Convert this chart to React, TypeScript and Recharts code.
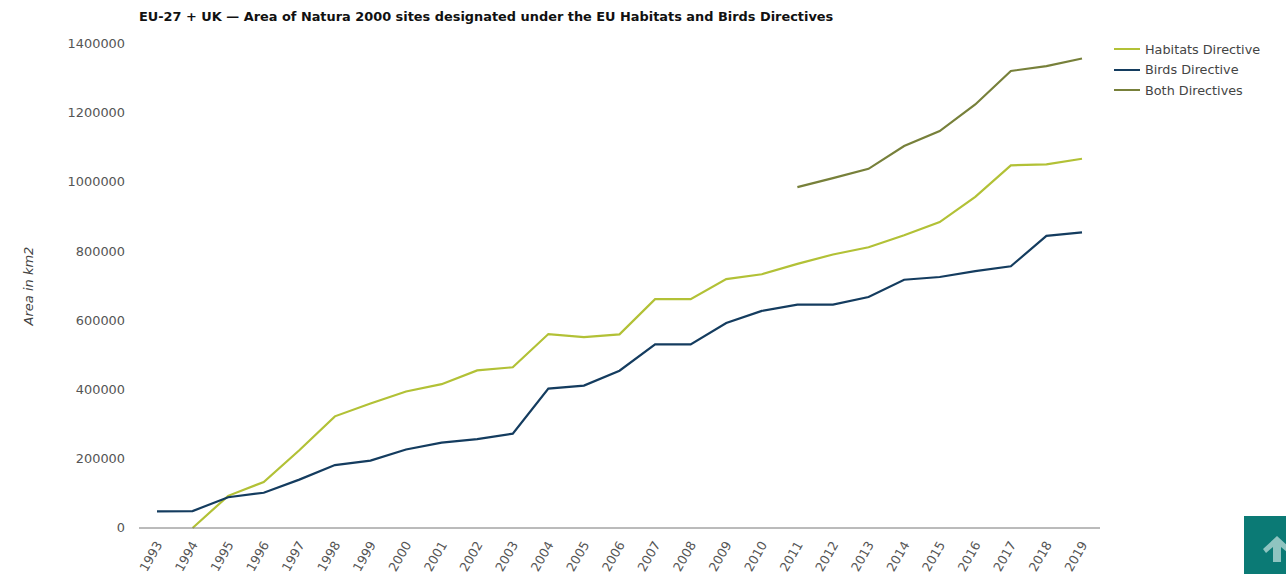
import React from "react";
import { LineChart, Line, XAxis, YAxis, Legend, Label } from "recharts";

const years = ["1993","1994","1995","1996","1997","1998","1999","2000","2001","2002","2003","2004","2005","2006","2007","2008","2009","2010","2011","2012","2013","2014","2015","2016","2017","2018","2019"];
const habitats: (number | null)[] = [null,0,93000,133000,225000,323000,360000,395000,416000,456000,465000,561000,552000,560000,662000,662000,720000,734000,764000,791000,812000,847000,885000,958000,1049000,1052000,1068000];
const birds: (number | null)[] = [48000,49000,89000,102000,140000,182000,195000,227000,247000,257000,273000,403000,412000,455000,531000,531000,593000,628000,646000,646000,668000,718000,726000,743000,757000,845000,855000];
const both: (number | null)[] = [null,null,null,null,null,null,null,null,null,null,null,null,null,null,null,null,null,null,986000,1012000,1039000,1105000,1148000,1225000,1322000,1336000,1358000];
const yTicks = [0,200000,400000,600000,800000,1000000,1200000,1400000];

const data = years.map((year, i) => ({ year, habitats: habitats[i], birds: birds[i], both: both[i] }));
const font = "'DejaVu Sans', Verdana, sans-serif";

const LegendBox = ({ payload }: any) => (
  <div style={{ fontFamily: font, fontSize: 12.8, color: "#444" }}>
    {(payload || []).map((p: any) => (
      <div key={p.value} style={{ display: "flex", alignItems: "center", height: 20.5 }}>
        <span style={{ display: "inline-block", width: 26, height: 2, background: p.color, marginRight: 5 }} />
        {p.value}
      </div>
    ))}
  </div>
);

export default function App() {
  return (
    <div style={{ position: "absolute", left: 0, top: 0, width: 1286, height: 574, overflow: "hidden", background: "#fff" }}>
      <div style={{ position: "absolute", left: 139, top: 8.5, fontFamily: font, fontWeight: 700, fontSize: 12.9, color: "#111", whiteSpace: "nowrap" }}>
        EU-27 + UK — Area of Natura 2000 sites designated under the EU Habitats and Birds Directives
      </div>
      <LineChart width={1286} height={574} data={data} margin={{ top: 44, right: 16, bottom: 0, left: 0 }}>
        <XAxis
          dataKey="year"
          interval={0}
          angle={-60}
          textAnchor="end"
          height={46}
          padding={{ left: 18, right: 18 }}
          tickLine={false}
          axisLine={{ stroke: "#777", strokeWidth: 1 }}
          tick={{ fontFamily: font, fontSize: 12.7, fill: "#555", dy: 0, dx: -2 }}
          tickMargin={6}
        />
        <YAxis
          width={139}
          domain={[0, 1400000]}
          ticks={yTicks}
          interval={0}
          tickLine={false}
          axisLine={false}
          tickMargin={8}
          tick={{ fontFamily: font, fontSize: 12.9, fill: "#555", dy: -0.5 }}
        >
          <Label
            value="Area in km2"
            angle={-90}
            position="insideLeft"
            offset={28}
            style={{ fontFamily: font, fontSize: 13, fontStyle: "italic", fill: "#444", textAnchor: "middle" }}
          />
        </YAxis>
        <Legend
          layout="vertical"
          align="right"
          verticalAlign="top"
          itemSorter={null as any}
          content={<LegendBox />}
          wrapperStyle={{ left: 1114, top: 39, width: 170, right: "auto" }}
        />
        <Line dataKey="habitats" name="Habitats Directive" stroke="#b2c136" strokeWidth={2.2} dot={false} isAnimationActive={false} />
        <Line dataKey="birds" name="Birds Directive" stroke="#143c5f" strokeWidth={2.2} dot={false} isAnimationActive={false} />
        <Line dataKey="both" name="Both Directives" stroke="#77803a" strokeWidth={2.2} dot={false} isAnimationActive={false} />
      </LineChart>
      <div style={{ position: "absolute", left: 1244, top: 516, width: 42, height: 58, background: "#0b7a75" }}>
        <svg width={42} height={58}>
          <path d="M33 20 L19 33 L22 37 L29 31 L29 46 L37 46 L37 31 L44 37 L47 33 Z" fill="#8fc4c0" />
        </svg>
      </div>
    </div>
  );
}
